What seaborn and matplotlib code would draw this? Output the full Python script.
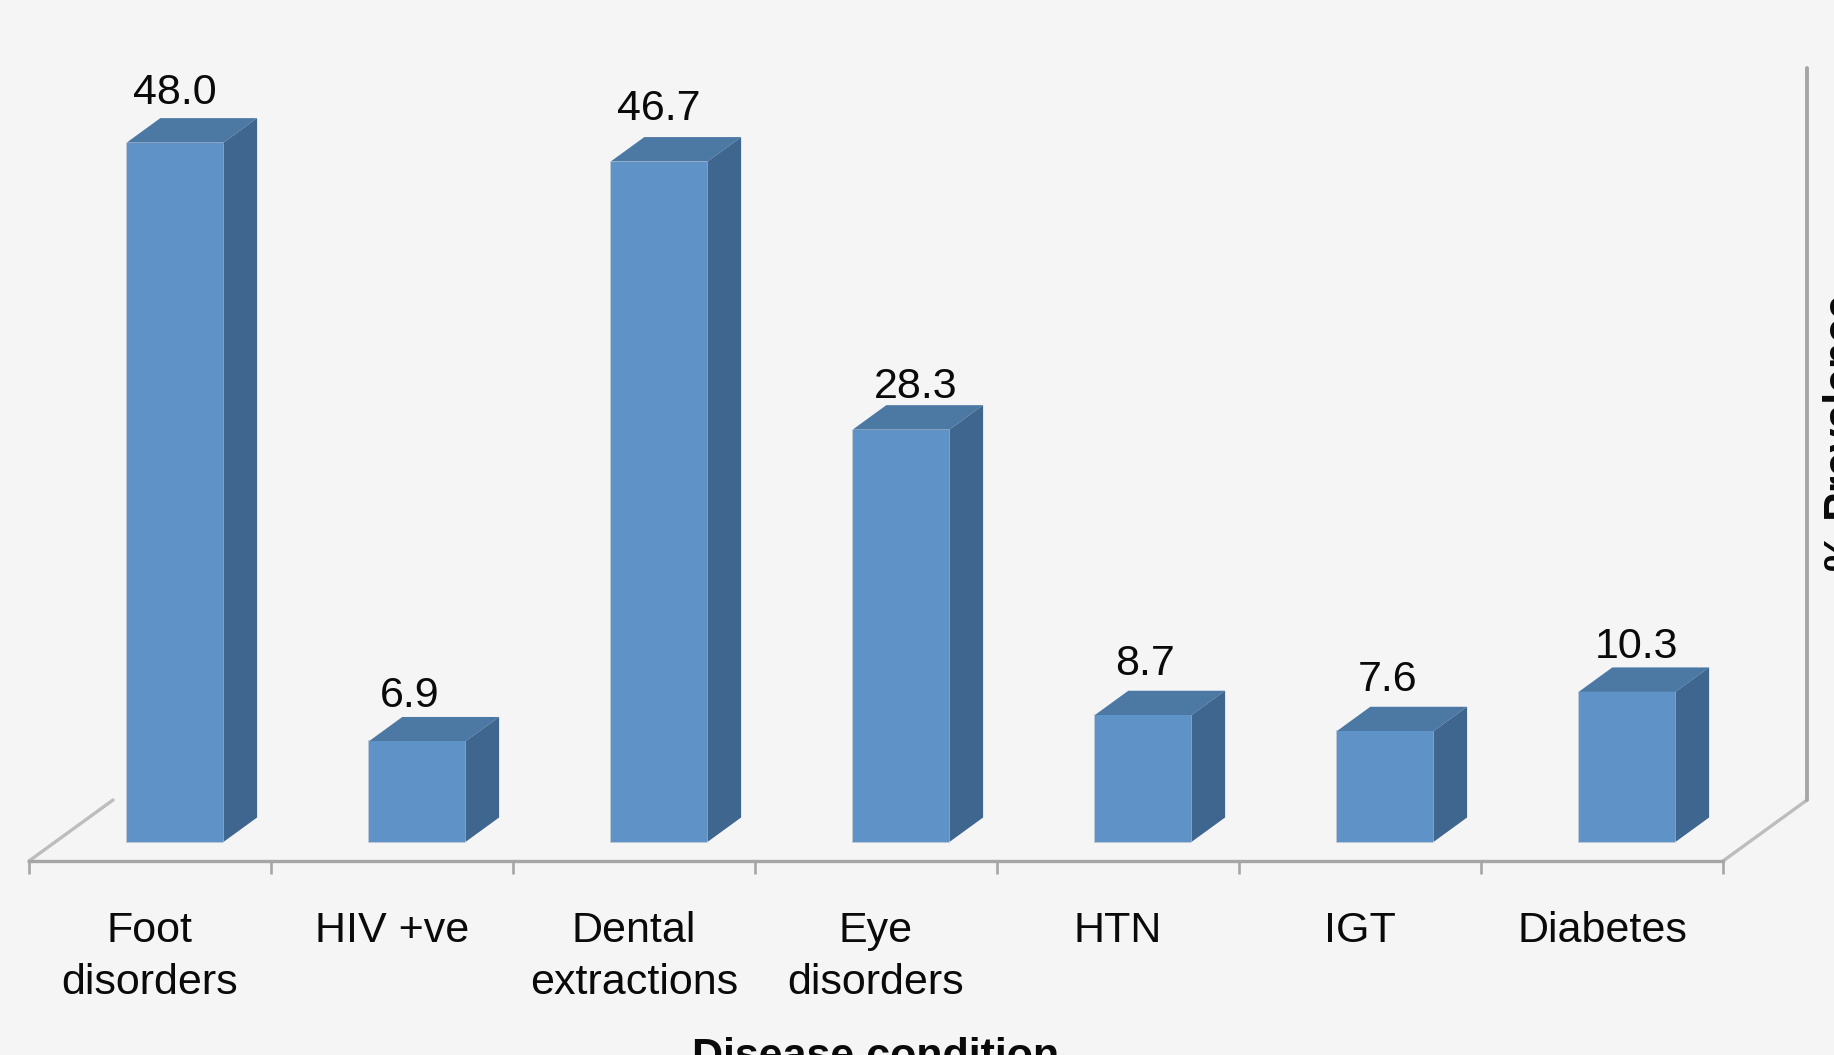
import matplotlib
matplotlib.use("Agg")
import matplotlib.pyplot as plt
import pandas as pd
import seaborn as sns

# Prevalence of each condition, in percent
conditions = ["Foot\ndisorders", "HIV +ve", "Dental\nextractions", "Eye\ndisorders", "HTN", "IGT", "Diabetes"]
prevalence = [48.0, 6.9, 46.7, 28.3, 8.7, 7.6, 10.3]

# Small hand placement of the value labels, in pixels relative to the bar's back edge
label_dx = [0, -7, 0, 15, 2, 3, 10]
label_dy = [14, 10, 17, 7, 16, 16, 9]

BG = "#F5F5F5"
FRONT = "#5F93C8"
TOP = "#4C78A4"
SIDE = "#3F668F"
AXIS = "#A6A6A6"
TEXT = "#0A0A0A"

sns.set_theme(style="white", rc={"figure.facecolor": BG, "axes.facecolor": BG})
plt.rcParams["font.family"] = ["Liberation Sans", "DejaVu Sans"]

W, H = 1834, 1055
DPI = 100
fig = plt.figure(figsize=(W / DPI, H / DPI), dpi=DPI, facecolor=BG)

# Plot area: floor front edge at y=861 px, running from x=29 to x=1723 px
ax = fig.add_axes([29 / W, (H - 861) / H, (1723 - 29) / W, 861 / H])
ax.patch.set_visible(False)

df = pd.DataFrame({"condition": conditions, "prevalence": prevalence})
sns.barplot(data=df, x="condition", y="prevalence", color=FRONT, saturation=1,
            width=0.40, ax=ax, linewidth=0, zorder=3)

PX_X = 242.0          # pixels per category slot
PX_Y = 14.57          # pixels per percentage point
BASE = -19 / PX_Y     # floor front edge lies below the bars' base
ax.set_xlim(-0.5, 6.5)
ax.set_ylim(BASE, 842 / PX_Y)

# Bars sit toward the back of the floor, so they are shifted right of the slot centre
shift = 25 / PX_X
dx = 33.7 / PX_X
dy = 24.5 / PX_Y

for patch, value, ndx, ndy in zip(ax.patches, prevalence, label_dx, label_dy):
    patch.set_x(patch.get_x() + shift)
    x0, x1 = patch.get_x(), patch.get_x() + patch.get_width()
    # pale outline down the left and along the foot of the front face
    ax.plot([x0, x0, x1], [value, 0, 0], color="#B9C6D4", lw=1.4, zorder=2.5, clip_on=False)
    # extruded top and side faces
    ax.fill([x0, x1, x1 + dx, x0 + dx], [value, value, value + dy, value + dy],
            color=TOP, lw=0, zorder=2)
    ax.fill([x1, x1 + dx, x1 + dx, x1], [0, dy, value + dy, value],
            color=SIDE, lw=0, zorder=2)
    ax.annotate(f"{value:.1f}", xy=((x0 + x1) / 2, value + dy),
                xytext=(ndx * 72 / DPI, ndy * 72 / DPI), textcoords="offset points",
                ha="center", va="baseline", fontsize=31, color=TEXT, zorder=4)

# Floor side edges and back wall edge
floor_dx = 84 / PX_X
floor_dy = 61 / PX_Y
wall_top = 774 / PX_Y
ax.plot([-0.5, -0.5 + floor_dx], [BASE, BASE + floor_dy], color="#BDBDBD", lw=2.4, clip_on=False, zorder=1)
ax.plot([6.5, 6.5 + floor_dx], [BASE, BASE + floor_dy], color="#BDBDBD", lw=2.4, clip_on=False, zorder=1)
ax.plot([6.5 + floor_dx, 6.5 + floor_dx], [BASE + floor_dy, wall_top], color=AXIS, lw=2.8,
        clip_on=False, zorder=1)

sns.despine(ax=ax, left=True, top=True, right=True, bottom=False)
ax.spines["bottom"].set_color(AXIS)
ax.spines["bottom"].set_linewidth(2.4)

# Tick marks at slot boundaries, labels at slot centres
ax.set_xticks([i - 0.5 for i in range(len(conditions) + 1)])
ax.set_xticklabels([])
ax.set_xticks(range(len(conditions)), minor=True)
ax.set_xticklabels(conditions, minor=True, fontsize=31, color=TEXT, linespacing=1.38)
ax.tick_params(axis="x", which="major", length=9.5, width=1.9, color=AXIS, bottom=True)
ax.tick_params(axis="x", which="minor", length=0, pad=36)
ax.set_yticks([])

ax.set_xlabel("Disease condition", fontsize=31, fontweight="bold", color=TEXT)
ax.xaxis.set_label_coords(0.5, (861 - 1037) / 861, transform=ax.transAxes)
ax.xaxis.label.set_va("top")

ax.set_ylabel("% Prevalence", fontsize=31, fontweight="bold", color=TEXT, rotation=90)
ax.yaxis.set_label_position("right")
ax.yaxis.label.set_ha("center")
ax.yaxis.label.set_va("top")
ax.yaxis.set_label_coords((1823 - 29) / (1723 - 29), (861 - 433) / 861, transform=ax.transAxes)

fig.savefig("out.png", dpi=DPI, facecolor=BG)
